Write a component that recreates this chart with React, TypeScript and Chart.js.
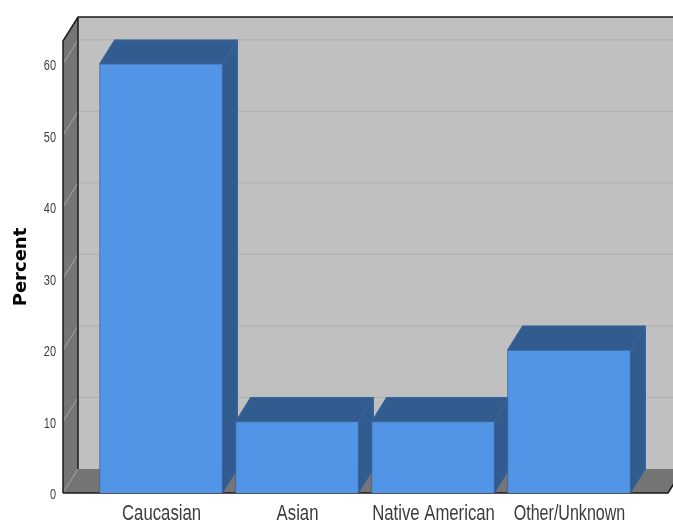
import React, { useEffect, useRef } from "react";
import { Chart, registerables } from "chart.js";

Chart.register(...registerables);

const categories = ["Caucasian", "Asian", "Native American", "Other/Unknown"];
const percents = [60, 10, 10, 20];
const yTicks = [0, 10, 20, 30, 40, 50, 60];

const FRONT = "#5294e6";
const SHADE = "#325c90";
const EDGE = "#3a659c";
const WALL = "#c0c0c0";
const SIDE_WALL = "#757575";
const GRID = "#b1b1b1";
const SIDE_GRID = "#989898";
const FRAME = "#1a1a1a";
const TEXT = "#3c3c3c";
const FONT = "'Liberation Sans'";
const DEPTH_X = 15;
const DEPTH_Y = -24;

function poly(ctx: CanvasRenderingContext2D, pts: number[][], fill: string, stroke?: string) {
  ctx.beginPath();
  pts.forEach(([x, y], i) => (i ? ctx.lineTo(x, y) : ctx.moveTo(x, y)));
  ctx.closePath();
  ctx.fillStyle = fill;
  ctx.fill();
  if (stroke) {
    ctx.strokeStyle = stroke;
    ctx.lineWidth = 1;
    ctx.stroke();
  }
}

// Back wall, side wall, floor and the extruded faces of each bar.
const box3d = {
  id: "box3d",
  beforeDatasetsDraw(chart: any) {
    const { ctx, chartArea: a, scales } = chart;
    const { left: l, right: r, top: t, bottom: b } = a;
    const y = scales.y;
    ctx.save();
    poly(ctx, [[l + DEPTH_X, t + DEPTH_Y], [r + DEPTH_X, t + DEPTH_Y], [r + DEPTH_X, b + DEPTH_Y], [l + DEPTH_X, b + DEPTH_Y]], WALL);
    poly(ctx, [[l, t], [l + DEPTH_X, t + DEPTH_Y], [l + DEPTH_X, b + DEPTH_Y], [l, b]], SIDE_WALL);
    poly(ctx, [[l, b], [l + DEPTH_X, b + DEPTH_Y], [r + DEPTH_X, b + DEPTH_Y], [r, b]], SIDE_WALL);

    ctx.lineWidth = 1.25;
    yTicks.forEach((v) => {
      const py = y.getPixelForValue(v);
      ctx.strokeStyle = SIDE_GRID;
      ctx.beginPath();
      ctx.moveTo(l, py);
      ctx.lineTo(l + DEPTH_X, py + DEPTH_Y);
      ctx.stroke();
      if (v > 0) {
        ctx.strokeStyle = GRID;
        ctx.beginPath();
        ctx.moveTo(l + DEPTH_X, py + DEPTH_Y);
        ctx.lineTo(r + DEPTH_X, py + DEPTH_Y);
        ctx.stroke();
      }
    });

    ctx.strokeStyle = FRAME;
    ctx.lineWidth = 1.5;
    ctx.beginPath();
    ctx.moveTo(l, b);
    ctx.lineTo(l, t);
    ctx.lineTo(l + DEPTH_X, t + DEPTH_Y);
    ctx.lineTo(r + DEPTH_X, t + DEPTH_Y);
    ctx.moveTo(l + DEPTH_X, t + DEPTH_Y);
    ctx.lineTo(l + DEPTH_X, b + DEPTH_Y);
    ctx.moveTo(l, b);
    ctx.lineTo(r, b);
    ctx.lineTo(r + DEPTH_X, b + DEPTH_Y);
    ctx.stroke();

    chart.getDatasetMeta(0).data.forEach((bar: any) => {
      const x0 = bar.x - bar.width / 2;
      const x1 = bar.x + bar.width / 2;
      const top = bar.y;
      const base = bar.base;
      poly(ctx, [[x1, top], [x1 + DEPTH_X, top + DEPTH_Y], [x1 + DEPTH_X, base + DEPTH_Y], [x1, base]], SHADE, EDGE);
      poly(ctx, [[x0, top], [x0 + DEPTH_X, top + DEPTH_Y], [x1 + DEPTH_X, top + DEPTH_Y], [x1, top]], SHADE, EDGE);
    });
    ctx.restore();
  },
  // Tick labels are set in a horizontally condensed face.
  afterDraw(chart: any) {
    const { ctx, scales } = chart;
    ctx.save();
    ctx.fillStyle = TEXT;
    ctx.textBaseline = "middle";

    ctx.font = `22px ${FONT}`;
    ctx.textAlign = "center";
    categories.forEach((label, i) => {
      const condense = label.includes("/") ? 0.73 : 0.76;
      const width = ctx.measureText(label).width * condense;
      ctx.fillText(label, scales.x.getPixelForValue(i) + 0.5, 514, width);
    });

    ctx.font = `14px ${FONT}`;
    ctx.textAlign = "right";
    yTicks.forEach((v) => {
      const label = String(v);
      const width = ctx.measureText(label).width * 0.78;
      ctx.fillText(label, 56, scales.y.getPixelForValue(v) + 2.5, width);
    });
    ctx.restore();
  },
};

export default function App() {
  const ref = useRef<HTMLCanvasElement>(null);

  useEffect(() => {
    const chart = new Chart(ref.current!, {
      type: "bar",
      data: {
        datasets: [
          {
            data: percents.map((v, i) => ({ x: i, y: v })),
            backgroundColor: FRONT,
            borderColor: EDGE,
            borderWidth: 1,
            barThickness: 123,
          },
        ],
      },
      plugins: [box3d],
      options: {
        animation: false,
        responsive: false,
        layout: { padding: { left: 0, top: 41, right: 5, bottom: 0 } },
        plugins: { legend: { display: false }, tooltip: { enabled: false } },
        scales: {
          x: {
            type: "linear",
            offset: false,
            min: -0.721,
            max: 3.728,
            grid: { display: false },
            border: { display: false },
            afterFit: (s: any) => {
              s.height = 30;
            },
            ticks: { display: false, stepSize: 1 },
          },
          y: {
            min: 0,
            max: 63.2,
            grid: { display: false },
            border: { display: false },
            afterFit: (s: any) => {
              s.width = 63;
            },
            title: {
              display: true,
              text: "Percent",
              color: "#000",
              padding: { top: 11, bottom: 0 },
              font: { family: "'DejaVu Sans'", size: 18, weight: "bold" },
            },
            ticks: { display: false, stepSize: 10 },
          },
        },
      },
    } as any);
    return () => chart.destroy();
  }, []);

  return (
    <canvas
      ref={ref}
      width={673}
      height={523}
      style={{ position: "fixed", left: 0, top: 0, width: 673, height: 523 }}
    />
  );
}
